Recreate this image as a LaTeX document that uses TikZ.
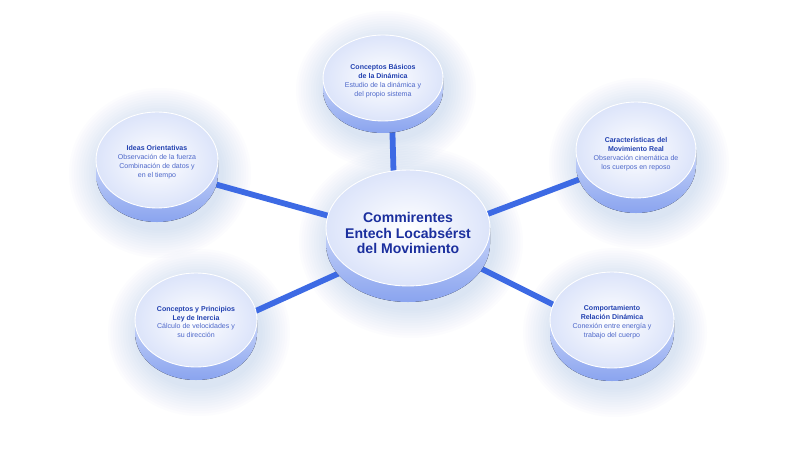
\documentclass[tikz,border=0pt]{standalone}
\usepackage{fontspec}
\setmainfont{Liberation Sans}
\usetikzlibrary{shapes.geometric,calc}
\definecolor{linkblue}{HTML}{3D6AE4}
\definecolor{titleblue}{HTML}{1B2F9E}
\definecolor{notenavy}{HTML}{2140B0}
\definecolor{noteblue}{HTML}{4D67C9}
\definecolor{rimtop}{HTML}{C6D3F8}
\definecolor{rimbottom}{HTML}{8AA4EF}
\definecolor{faceblue}{HTML}{DCE4FA}
\definecolor{glowblue}{HTML}{7393F0}
\pgfdeclarelayer{background}
\pgfsetlayers{background,main}
\newcommand{\notehead}[1]{{\bfseries\color{notenavy}#1}}

\begin{document}
\begin{tikzpicture}[x=0.02cm,y=0.02cm,
  link/.style={line width=3.3pt,linkblue},
  rim/.style={top color=rimtop,bottom color=rimbottom},
  face/.style={ellipse,inner sep=0pt,draw=white,line width=0.5pt,inner color=white,outer color=faceblue},
  maintext/.style={align=center,text=titleblue,font=\fontsize{8}{8.6}\selectfont\bfseries},
  notetext/.style={align=center,text=noteblue,font=\fontsize{4}{5.1}\selectfont}]
\useasboundingbox (0,0) rectangle (800,450);
\begin{pgfonlayer}{background}
\fill[white] (0,0) rectangle (800,450);
\end{pgfonlayer}

% discs: x/y/rx/ry/thickness/name
\foreach \x/\y/\rx/\ry/\th/\n in {408/222/82/58/16/main, 383/372/60/43/12/top, 157/290/61/48/14/lt, 636/300/60/48/15/rt, 196/130/61/47/13/lb, 612/130/62/48/13/rb}{
  \begin{pgfonlayer}{background}
    \foreach \k in {1,...,12}
      \fill[glowblue,opacity=0.018] (\x+3,\y-\th/2-6) ellipse [x radius=\rx+\k*2.5, y radius=\ry+\th/2+\k*2.5];
  \end{pgfonlayer}
  \fill[rim] (\x-\rx,\y) -- (\x-\rx,\y-\th) arc[start angle=180,end angle=360,x radius=\rx,y radius=\ry] -- (\x+\rx,\y) -- cycle;
  \node[face,minimum width=\rx*0.04cm,minimum height=\ry*0.04cm] (\n) at (\x,\y) {};
}

% links behind the discs
\begin{pgfonlayer}{background}
\draw[link] ($(top)+(8,0)$) -- ($(main)+(-13,0)$);
\draw[link] ($(lt)+(0,-8)$) -- ($(main)+(0,-10)$);
\draw[link] ($(rt)+(0,-8)$) -- ($(main)+(0,-16)$);
\draw[link] ($(lb)+(0,-18)$) -- ($(main)+(0,-14)$);
\draw[link] ($(rb)+(0,-14)$) -- ($(main)+(0,-4)$);
\end{pgfonlayer}

\node[maintext] (mainText) at (408,217) {Commirentes\\Entech Locabsérst\\del Movimiento};
\node[notetext] (topText) at (383,369) {\notehead{Conceptos Básicos}\\\notehead{de la Dinámica}\\Estudio de la dinámica y\\del propio sistema};
\node[notetext] (ltText) at (157,288) {\notehead{Ideas Orientativas}\\Observación de la fuerza\\Combinación de datos y\\en el tiempo};
\node[notetext] (rtText) at (636,296) {\notehead{Características del}\\\notehead{Movimiento Real}\\Observación cinemática de\\los cuerpos en reposo};
\node[notetext] (lbText) at (196,128) {\notehead{Conceptos y Principios}\\\notehead{Ley de Inercia}\\Cálculo de velocidades y\\su dirección};
\node[notetext] (rbText) at (612,128) {\notehead{Comportamiento}\\\notehead{Relación Dinámica}\\Conexión entre energía y\\trabajo del cuerpo};
\end{tikzpicture}
\end{document}
